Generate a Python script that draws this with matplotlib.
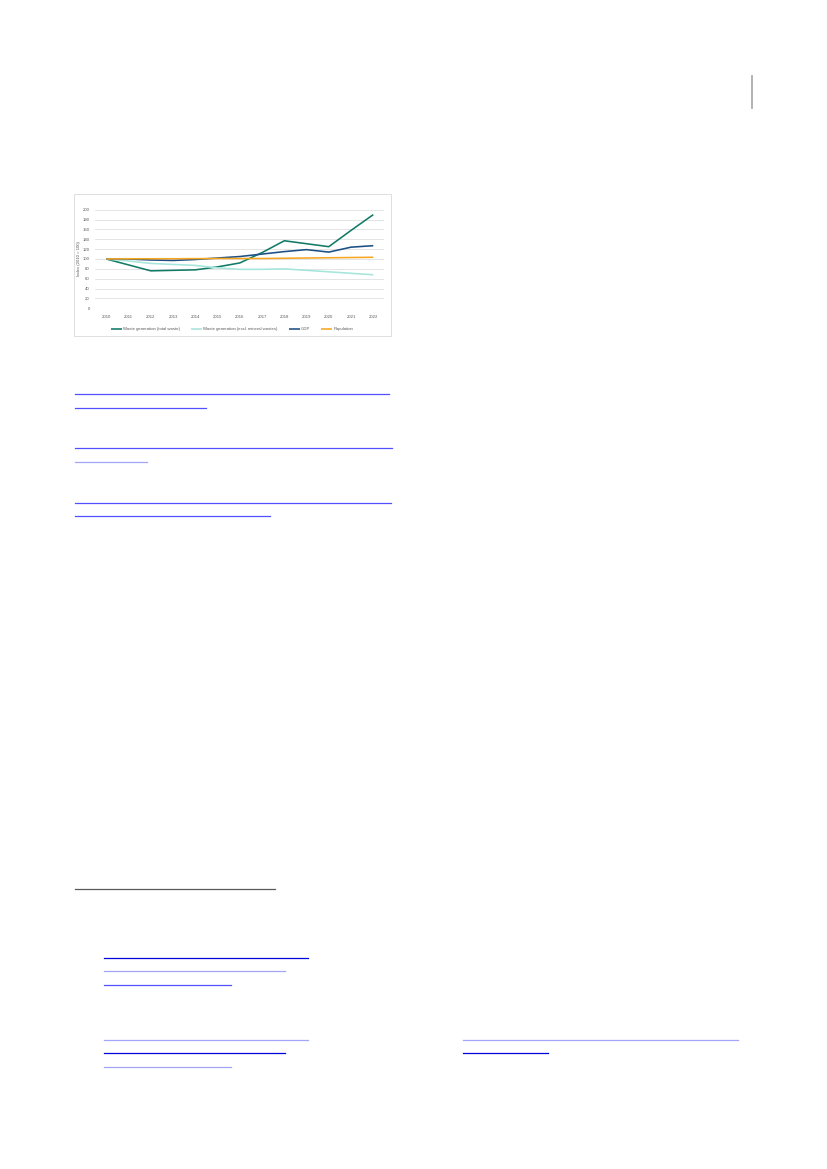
import matplotlib
matplotlib.use("Agg")
import matplotlib.pyplot as plt
from matplotlib.lines import Line2D
from matplotlib.patches import Rectangle

plt.rcParams['font.family'] = ['Liberation Sans', 'DejaVu Sans']

# ---- data ----
years = ["2010", "2011", "2012", "2013", "2014", "2015", "2016",
         "2017", "2018", "2019", "2020", "2021", "2022"]
waste_total = [100, 88, 76, 77, 78, 84, 92, 113, 137, 131, 125, 158, 190]
waste_excl_mineral = [100, 96, 91, 89, 87, 82, 79, 79, 80, 77, 74, 71, 68]
gdp = [100, 100, 98, 97, 99, 102, 105, 110, 115, 119, 114, 124, 127]
population = [100, 100.5, 100.5, 100.5, 100.7, 101, 101, 101, 101.5, 102, 102.5, 103, 103.5]
y_ticks = [0, 20, 40, 60, 80, 100, 120, 140, 160, 180, 200]
series_labels = ["Waste generation (total waste)",
                 "Waste generation (excl. mineral wastes)",
                 "GDP", "Population"]
y_label = "Index (2010 = 100)"

W, H = 827, 1169
fig = plt.figure(figsize=(W / 100, H / 100), dpi=100)
fig.patch.set_facecolor("white")

def fx(px):
    return px / W

def fy(py):
    return 1 - py / H

# chart frame
fig.add_artist(Rectangle((fx(74), fy(336)), fx(391) - fx(74), fy(194) - fy(336),
                         transform=fig.transFigure, fill=False,
                         edgecolor="#d9d9d9", linewidth=0.6))

ax = fig.add_axes([fx(95.2), fy(308.3), fx(384.4) - fx(95.2), fy(209.7) - fy(308.3)])
x = list(range(len(years)))
colors = ["#127a66", "#a6e5da", "#1c4f85", "#f5a623"]
for vals, c, lab in zip([waste_total, waste_excl_mineral, gdp, population], colors, series_labels):
    ax.plot(x, vals, color=c, lw=1.15, label=lab, solid_capstyle="butt")
ax.set_xlim(-0.5, len(years) - 0.5)
ax.set_ylim(0, 200)
ax.set_yticks(y_ticks)
ax.set_yticklabels([str(v) for v in y_ticks])
ax.set_xticks(x)
ax.set_xticklabels(years)
ax.grid(axis="y", color="#d9d9d9", lw=0.5)
ax.set_axisbelow(True)
for s in ax.spines.values():
    s.set_visible(False)
ax.tick_params(length=0, labelsize=3.1, labelcolor="#595959", pad=4)
ax.tick_params(axis="x", pad=4.5)
ax.set_ylabel(y_label, fontsize=3.1, color="#595959", labelpad=1.5)

fig.legend(loc="center", bbox_to_anchor=(fx(232), fy(329)), ncol=4, frameon=False,
           fontsize=3.1, handlelength=2.6, columnspacing=2.5, handletextpad=0.3,
           labelcolor="#595959")

# page decoration: vertical rule top-right
fig.add_artist(Line2D([fx(752), fx(752)], [fy(76), fy(108)], transform=fig.transFigure,
                      color="#a6a6a6", lw=1.2))

# hyperlink underlines (text absent in reference)
dark = "#0000d8"
mid = "#5050ff"
light = "#a4a4fb"
underlines = [
    (394, 75, 389, mid), (408, 75, 206, mid),
    (448, 75, 392, mid), (462, 75, 147, light),
    (503, 75, 391, mid), (516, 75, 270, mid),
    (958, 104, 308, dark), (971, 104, 285, light), (985, 104, 231, mid),
    (1040, 104, 308, light), (1053, 104, 285, dark), (1067, 104, 231, light),
    (1040, 463, 738, light), (1053, 463, 548, dark),
]
for yy, x0, x1, c in underlines:
    fig.add_artist(Line2D([fx(x0), fx(x1)], [fy(yy), fy(yy)], transform=fig.transFigure,
                          color=c, lw=0.9))
fig.add_artist(Line2D([fx(75), fx(275)], [fy(889), fy(889)], transform=fig.transFigure,
                      color="#5a5a5a", lw=0.9))

fig.savefig("out.png", dpi=100, facecolor="white")
